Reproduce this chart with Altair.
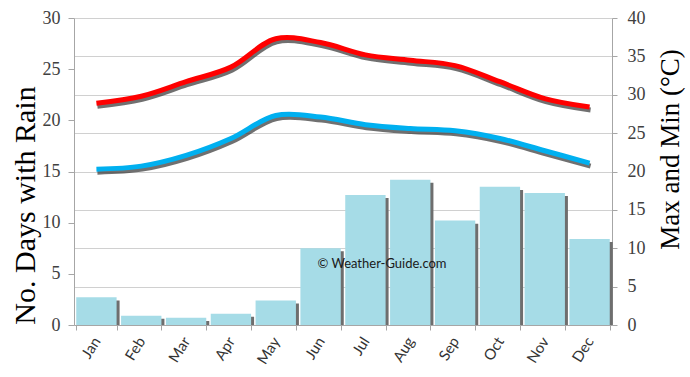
import altair as alt
import pandas as pd

months = ["Jan", "Feb", "Mar", "Apr", "May", "Jun", "Jul", "Aug", "Sep", "Oct", "Nov", "Dec"]
rain_days = [2.7, 0.9, 0.7, 1.1, 2.4, 7.5, 12.7, 14.2, 10.2, 13.5, 12.9, 8.4]
max_temp = [28.9, 29.8, 31.7, 33.6, 37.3, 36.8, 35.2, 34.5, 33.8, 31.7, 29.5, 28.4]
min_temp = [20.3, 20.7, 22.1, 24.3, 27.3, 27.1, 26.1, 25.6, 25.3, 24.3, 22.7, 21.1]
left_ticks = [0, 5, 10, 15, 20, 25, 30]
right_ticks = [0, 5, 10, 15, 20, 25, 30, 35, 40]
left_title = "No. Days with Rain"
right_title = "Max and Min (°C)"
watermark = "© Weather-Guide.com"

df = pd.DataFrame({"month": months, "rain": rain_days, "tmax": max_temp, "tmin": min_temp})

SERIF = "Liberation Serif"
AXIS_GREY = "#a6a6a6"

x_enc = alt.X(
    "month:N",
    sort=months,
    scale=alt.Scale(paddingInner=0.1, paddingOuter=0.05),
    axis=alt.Axis(
        title=None, labelAngle=302, labelFont="Lato", labelFontSize=15,
        labelColor="#333333", tickBand="extent", tickSize=5, tickColor=AXIS_GREY,
        domainColor=AXIS_GREY, labelPadding=8, grid=False,
    ),
)

left_scale = alt.Scale(domain=[0, 30], nice=False)
right_scale = alt.Scale(domain=[0, 40], nice=False)

left_axis = alt.Axis(
    values=left_ticks, title=left_title, titleFont=SERIF, titleFontSize=30,
    titleFontWeight="normal", titleColor="#000000", titleX=-49, titleY=187,
    titleAngle=270, titleAlign="center", titleBaseline="middle",
    labelFont=SERIF, labelFontSize=18, labelColor="#404040", labelPadding=8,
    tickSize=6, tickColor=AXIS_GREY, domainColor=AXIS_GREY, grid=False,
)

right_axis = alt.Axis(
    orient="right", values=right_ticks, grid=True, gridColor="#d0d0d0",
    title=right_title, titleFont=SERIF, titleFontSize=27, titleFontWeight="normal",
    titleColor="#000000", titleAngle=270, titleX=58, titleY=131,
    titleAlign="center", titleBaseline="middle",
    labelFont=SERIF, labelFontSize=18, labelColor="#404040", labelPadding=10,
    tickSize=5, tickColor=AXIS_GREY, domainColor=AXIS_GREY,
)

base = alt.Chart(df)

bar_shadow = base.transform_calculate(rain_sh="datum.rain - 0.3").mark_bar(
    color="#6e6e6e", xOffset=3
).encode(
    x=x_enc,
    y=alt.Y("rain_sh:Q", scale=left_scale, axis=left_axis),
    y2=alt.datum(0),
)

bars = base.mark_bar(color="#A6DCE7").encode(
    x=x_enc,
    y=alt.Y("rain:Q", scale=left_scale, axis=left_axis),
)

wm = alt.Chart(pd.DataFrame({"t": [watermark]})).mark_text(
    font="Lato", fontSize=13, color="#1a1a1a", align="center", baseline="middle"
).encode(text="t:N", x=alt.value(308), y=alt.value(246))

left_layer = alt.layer(bar_shadow, bars)


def temp_line(field, color, shadow=False):
    if shadow:
        m = base.mark_line(color="#333333", strokeWidth=5, opacity=0.7,
                           interpolate="catmull-rom", xOffset=1, yOffset=3)
    else:
        m = base.mark_line(color=color, strokeWidth=5, interpolate="catmull-rom")
    return m.encode(
        x=x_enc,
        y=alt.Y(f"{field}:Q", scale=right_scale, axis=right_axis),
    )


lines = alt.layer(
    temp_line("tmax", "#FF0000", shadow=True),
    temp_line("tmin", "#00B0F0", shadow=True),
    temp_line("tmax", "#FF0000"),
    temp_line("tmin", "#00B0F0"),
)

chart = alt.layer(left_layer, lines, wm).resolve_scale(y="independent").properties(
    width=538, height=307,
    padding={"left": 74, "top": 18, "right": 78, "bottom": 52},
    autosize=alt.AutoSizeParams(type="none"),
    background="white",
).configure_view(stroke=None)

chart.save("out.html", embed_options={"renderer": "svg", "actions": False})
